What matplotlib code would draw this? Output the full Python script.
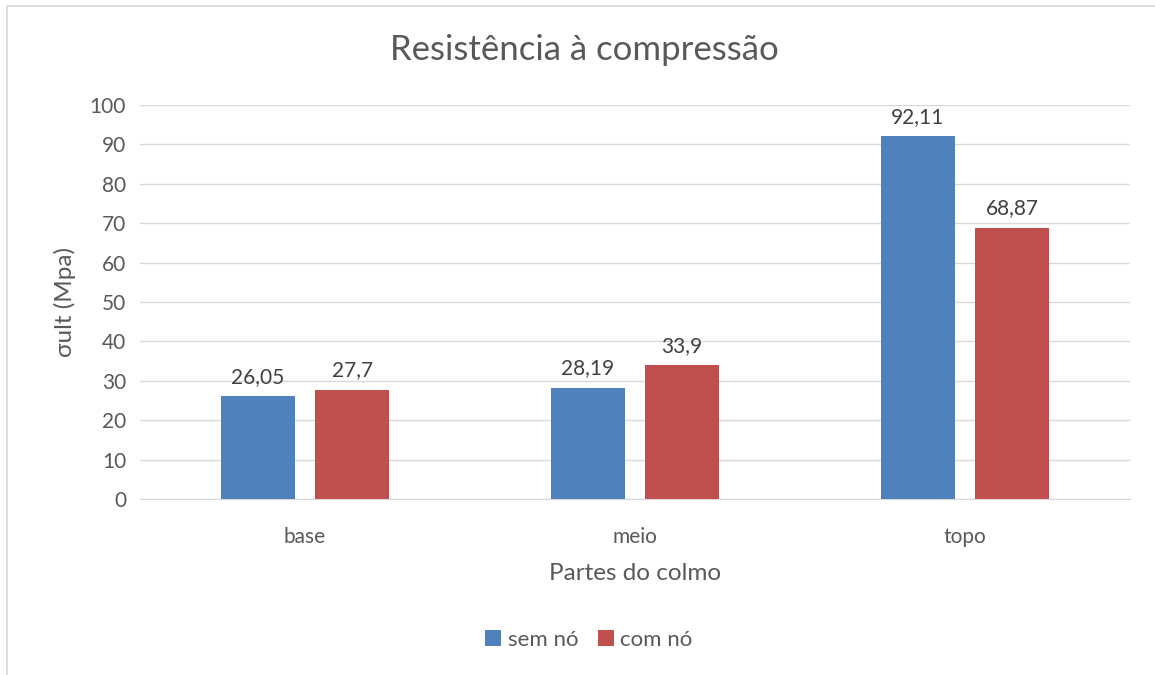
import matplotlib.pyplot as plt
import numpy as np
from matplotlib.patches import Rectangle

categorias = ['base', 'meio', 'topo']
sem_no = [26.05, 28.19, 92.11]
com_no = [27.7, 33.9, 68.87]
rotulos_sem = ['26,05', '28,19', '92,11']
rotulos_com = ['27,7', '33,9', '68,87']

plt.rcParams['font.family'] = ['Lato', 'DejaVu Sans']
cinza = '#595959'
azul = '#4F81BD'
vermelho = '#C0504D'

fig = plt.figure(figsize=(11.55, 6.75), dpi=100)
ax = fig.add_axes([140 / 1155, 1 - 499 / 675, 990 / 1155, 394 / 675])

# borda do gráfico (só esquerda e topo visíveis)
fig.patches.append(Rectangle((7 / 1155, -0.1), 1.2, 1 - 6 / 675 + 0.1,
                             transform=fig.transFigure, fill=False,
                             edgecolor='#D9D9D9', linewidth=1.2))

x = np.arange(len(categorias))
w = 0.224
b1 = ax.bar(x - 0.143, sem_no, w, color=azul, label='sem nó', zorder=3)
b2 = ax.bar(x + 0.143, com_no, w, color=vermelho, label='com nó', zorder=3)

for barras, rot in ((b1, rotulos_sem), (b2, rotulos_com)):
    for b, t in zip(barras, rot):
        ax.text(b.get_x() + b.get_width() / 2, b.get_height() + 2.4, t,
                ha='center', va='bottom', fontsize=15, color='#404040')

ax.set_xlim(-0.5, 2.5)
ax.set_ylim(0, 100)
ax.set_yticks(range(0, 101, 10))
ax.set_xticks(x)
ax.set_xticklabels(categorias)
ax.grid(axis='y', color='#D9D9D9', linewidth=1, zorder=0)
ax.tick_params(axis='both', length=0, labelsize=15, colors=cinza)
ax.tick_params(axis='x', pad=20)
ax.tick_params(axis='y', pad=10)
for s in ['top', 'right', 'left']:
    ax.spines[s].set_visible(False)
ax.spines['bottom'].set_color('#D9D9D9')

fig.text(584 / 1155, 1 - 50 / 675, 'Resistência à compressão', fontsize=25,
         color=cinza, ha='center', va='center')
ax.set_xlabel('Partes do colmo', fontsize=17.5, color=cinza, labelpad=12)
ax.set_ylabel('σult (Mpa)', fontsize=17.5, color=cinza, labelpad=10)

fig.legend(loc='center', bbox_to_anchor=(589 / 1155, 1 - 640 / 675), ncol=2,
           frameon=False, fontsize=16, handlelength=0.7, handleheight=0.7,
           handletextpad=0.3, columnspacing=0.9, labelcolor=cinza)

fig.savefig('out.png', dpi=100)
